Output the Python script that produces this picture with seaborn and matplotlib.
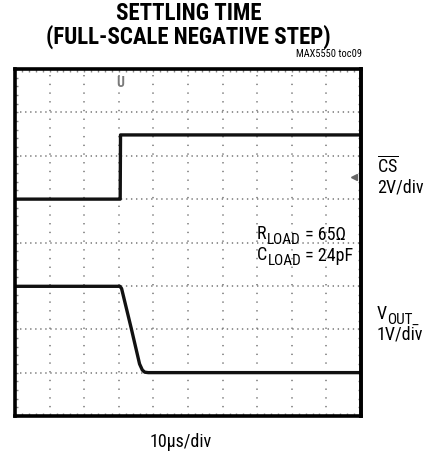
import numpy as np
import pandas as pd
import matplotlib
matplotlib.use('Agg')
import matplotlib.pyplot as plt
from matplotlib import font_manager
import seaborn as sns

# scope traces in screen divisions (x: 0..10 div, y: 0..8 div from bottom)
cs_time = [0.0, 3.04, 3.05, 10.0]
cs_level = [5.0, 5.0, 6.48, 6.48]
vout_time = [0.0, 3.03, 3.08, 3.36, 3.6, 3.68, 3.75, 3.85, 10.0]
vout_level = [2.99, 2.99, 2.94, 2.02, 1.2, 1.06, 1.01, 1.0, 1.0]

n_xdiv = 10
n_ydiv = 8

installed = {f.name for f in font_manager.fontManager.ttflist}
narrow = next((f for f in ['Liberation Sans Narrow', 'Roboto Condensed', 'DejaVu Sans Condensed',
                           'Open Sans Condensed', 'Liberation Sans'] if f in installed), 'DejaVu Sans')

sns.set_style('white')
plt.rcParams['font.family'] = [narrow, 'DejaVu Sans']
plt.rcParams['text.color'] = 'black'
plt.rcParams['mathtext.fontset'] = 'custom'
plt.rcParams['mathtext.rm'] = narrow
plt.rcParams['mathtext.it'] = narrow + ':italic'
plt.rcParams['mathtext.bf'] = narrow + ':bold'

W, H = 431, 452
fig = plt.figure(figsize=(W / 100, H / 100), dpi=100)
ax = fig.add_axes([15 / W, 35 / H, 346 / W, 347 / H])


def fx(px):
    return px / W


def fy(py):
    return 1 - py / H


def label_with_sub(x, y, main, sub, rest='', size=13, sub_size=11, drop=3.0):
    t1 = fig.text(fx(x), fy(y), main, fontsize=size, ha='left', va='bottom')
    t2 = ax.annotate(sub, xy=(1, 0), xycoords=t1, xytext=(0.2, -drop),
                     textcoords='offset points', fontsize=sub_size, ha='left', va='bottom',
                     annotation_clip=False)
    if rest:
        ax.annotate(rest, xy=(1, 0), xycoords=t2, xytext=(0, drop - 0.4),
                    textcoords='offset points', fontsize=size, ha='left', va='bottom',
                    annotation_clip=False)


# dotted graticule
for gx in range(1, n_xdiv):
    ax.axvline(gx, color='#777777', lw=1.1, ls=(0, (0.9, 4.8)))
for gy in range(1, n_ydiv):
    ax.axhline(gy, color='#777777', lw=1.1, ls=(0, (0.9, 2.4)))

traces = pd.concat([
    pd.DataFrame({'t': cs_time, 'v': cs_level, 'ch': 'cs'}),
    pd.DataFrame({'t': vout_time, 'v': vout_level, 'ch': 'vout'}),
])
sns.lineplot(data=traces, x='t', y='v', units='ch', estimator=None,
             color='#111111', lw=2.4, sort=False, ax=ax)

# trigger and ground markers
ax.text(3.05, 7.7, 'U', ha='center', va='center', fontsize=10, fontweight='bold',
        color='#7a7a7a')
ax.plot([9.8], [5.5], marker='<', color='#666666', ms=5)

ax.set_xlim(0, n_xdiv)
ax.set_ylim(0, n_ydiv)
ax.set_xticks([])
ax.set_yticks([])
ax.set_xticks(np.arange(0, n_xdiv + 0.01, 0.2), minor=True)
ax.set_yticks(np.arange(0, n_ydiv + 0.01, 0.2), minor=True)
ax.tick_params(which='minor', direction='in', length=2.5, width=1, color='#888888',
               bottom=True, top=True, left=True, right=True,
               labelbottom=False, labelleft=False)
ax.set_xlabel('')
ax.set_ylabel('')
for s in ax.spines.values():
    s.set_visible(True)
    s.set_color('black')
    s.set_linewidth(2.6)
    s.set_zorder(6)
# explicit right edge of the screen frame
ax.plot([1, 1], [0, 1], transform=ax.transAxes, color='black', lw=2.6,
        clip_on=False, zorder=7, solid_capstyle='projecting')

label_with_sub(257, 243, 'R', 'LOAD', ' = 65\u03a9')
label_with_sub(257, 264, 'C', 'LOAD', ' = 24pF')
label_with_sub(377, 323, 'V', 'OUT_')

fig.text(fx(377), fy(176), r'$\overline{\mathregular{CS}}$', fontsize=13, ha='left', va='bottom')
fig.text(fx(377), fy(197), '2V/div', fontsize=13, ha='left', va='bottom')
fig.text(fx(377), fy(344), '1V/div', fontsize=13, ha='left', va='bottom')
fig.text(fx(181), fy(451), '10\u00b5s/div', fontsize=13, ha='center', va='bottom')

fig.text(fx(188.5), fy(44), 'SETTLING TIME\n(FULL-SCALE NEGATIVE STEP)', fontsize=16.5,
         fontweight='bold', ha='center', va='baseline', linespacing=0.98)
fig.text(fx(362), fy(57), 'MAX5550 toc09', fontsize=7.5, ha='right', va='baseline')

fig.savefig('out.png', dpi=100)
